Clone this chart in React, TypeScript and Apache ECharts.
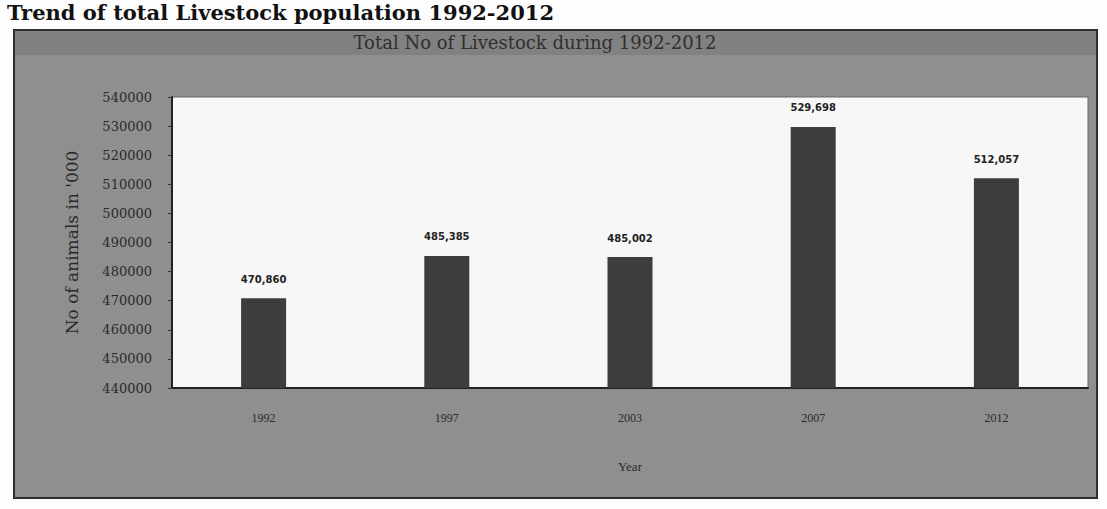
import React, { useEffect, useRef } from "react";
import * as echarts from "echarts";

const years = ["1992", "1997", "2003", "2007", "2012"];
const livestock = [470860, 485385, 485002, 529698, 512057];
const pageTitle = "Trend of total Livestock population 1992-2012";
const chartTitle = "Total No of Livestock during 1992-2012";
const yAxisTitle = "No of animals in '000";
const xAxisTitle = "Year";

export default function App() {
  const ref = useRef<HTMLDivElement>(null);
  useEffect(() => {
    if (!ref.current) return;
    const chart = echarts.init(ref.current, undefined, { renderer: "svg" });
    chart.setOption({
      animation: false,
      backgroundColor: "#fdfdfd",
      graphic: [
        {
          type: "rect",
          z: -10,
          silent: true,
          shape: { x: 14, y: 30, width: 1083, height: 468 },
          style: { fill: "#8f8f8f", stroke: "#2e2e2e", lineWidth: 2 },
        },
        {
          type: "rect",
          z: -9,
          silent: true,
          shape: { x: 15, y: 31, width: 1081, height: 24 },
          style: { fill: "#818181" },
        },
        {
          type: "text",
          x: 7,
          y: 12,
          style: {
            text: pageTitle,
            font: "bold 21px 'DejaVu Serif'",
            fill: "#111",
            textVerticalAlign: "middle",
          },
        },
        {
          type: "text",
          x: 535,
          y: 42,
          style: {
            text: chartTitle,
            font: "18px 'DejaVu Serif'",
            fill: "#2f2f2f",
            textAlign: "center",
            textVerticalAlign: "middle",
          },
        },
      ],
      grid: {
        left: 172,
        right: 19,
        top: 97,
        bottom: 121,
        show: true,
        backgroundColor: "#f7f7f7",
        borderColor: "#666",
        borderWidth: 1,
      },
      xAxis: {
        type: "category",
        data: years,
        name: xAxisTitle,
        nameLocation: "middle",
        nameGap: 72,
        nameTextStyle: { fontFamily: "Liberation Serif", fontSize: 13, color: "#2a2a2a" },
        axisLine: { lineStyle: { color: "#222", width: 2 } },
        axisTick: { show: false },
        axisLabel: { fontFamily: "Liberation Serif", fontSize: 12, color: "#2a2a2a", margin: 24 },
      },
      yAxis: {
        type: "value",
        min: 440000,
        max: 540000,
        interval: 10000,
        name: yAxisTitle,
        nameLocation: "middle",
        nameGap: 92,
        nameTextStyle: { fontFamily: "DejaVu Serif", fontSize: 17, color: "#2a2a2a" },
        axisLine: { show: true, lineStyle: { color: "#222", width: 2 } },
        axisTick: { show: true, length: 4, lineStyle: { color: "#333" } },
        splitLine: { show: false },
        axisLabel: {
          fontFamily: "DejaVu Serif",
          fontSize: 13,
          color: "#2a2a2a",
          margin: 20,
          formatter: (v: number) => String(v),
        },
      },
      series: [
        {
          type: "bar",
          data: livestock,
          barWidth: 45,
          itemStyle: { color: "#3d3d3d" },
          label: {
            show: true,
            position: "top",
            distance: 14,
            fontFamily: "DejaVu Sans",
            fontWeight: "bold",
            fontSize: 10,
            color: "#222",
            formatter: (p: any) => Number(p.value).toLocaleString("en-US"),
          },
        },
      ],
    });
    return () => chart.dispose();
  }, []);
  return (
    <div
      ref={ref}
      style={{ position: "fixed", left: 0, top: 0, width: 1107, height: 509 }}
    />
  );
}
